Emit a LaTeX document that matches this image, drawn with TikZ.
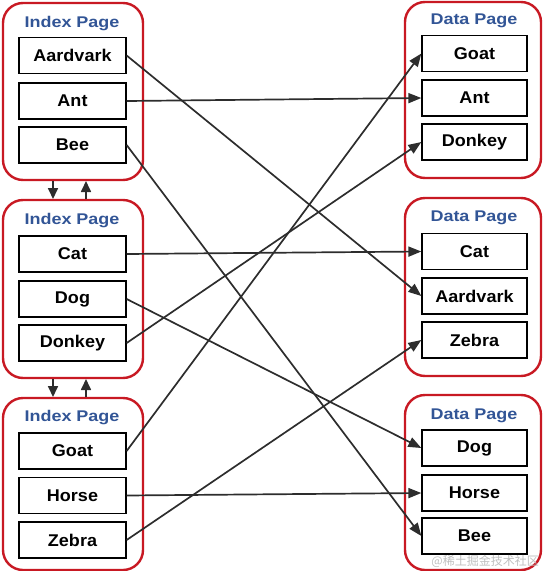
\documentclass[tikz,border=0pt]{standalone}
\usepackage{fontspec}
\setmainfont{Liberation Sans}
\newfontfamily\boxfont[FakeStretch=1.06]{Liberation Sans}
\newfontfamily\titlefont[FakeStretch=1.16]{Liberation Sans}
\newfontfamily\cjk{Noto Sans CJK SC}
\usetikzlibrary{arrows.meta}
\definecolor{pagered}{RGB}{200,25,35}
\definecolor{titleblue}{RGB}{50,85,150}
\definecolor{linegray}{RGB}{45,45,45}
\tikzset{
  grp/.style={draw=pagered,line width=2.4pt,rounded corners=20pt},
  entry/.style={draw=black,line width=1.3pt,minimum width=#1,minimum height=36pt,inner sep=0pt,font=\boxfont\bfseries\fontsize{17}{20}\selectfont},
  entry/.default=107pt,
  ttl/.style={text=titleblue,font=\titlefont\bfseries\fontsize{15.5}{18}\selectfont,inner sep=0pt},
  conn/.style={draw=linegray,line width=1.7pt,-{Triangle[length=13pt,width=10pt]}},
  updown/.style={draw=linegray,line width=1.7pt,-{Triangle[length=11pt,width=10pt]}}
}
\begin{document}
\begin{tikzpicture}[x=1pt,y=-1pt]
\useasboundingbox (0,0) rectangle (542,571);
% left groups
\draw[grp] (3,3) rectangle (143,180);
\draw[grp] (3,200) rectangle (143,378);
\draw[grp] (3,398) rectangle (143,570);
\node[ttl] (t1) at (72,23.5) {Index Page};
\node[ttl] (t2) at (72,221) {Index Page};
\node[ttl] (t3) at (72,418) {Index Page};
% right groups
\draw[grp] (405,2) rectangle (541,178);
\draw[grp] (405,198) rectangle (541,376);
\draw[grp] (405,395) rectangle (541,570);
\node[ttl] (d1) at (474,20.5) {Data Page};
\node[ttl] (d2) at (474,218) {Data Page};
\node[ttl] (d3) at (474,416) {Data Page};
% left entries
\node[entry] (lA) at (72.5,55.5) {Aardvark};
\node[entry] (lAn) at (72.5,101) {Ant};
\node[entry] (lB) at (72.5,145) {Bee};
\node[entry] (lC) at (72.5,254) {Cat};
\node[entry] (lD) at (72.5,299) {Dog};
\node[entry] (lDk) at (72.5,343) {Donkey};
\node[entry] (lG) at (72.5,451) {Goat};
\node[entry] (lH) at (72.5,495.5) {Horse};
\node[entry] (lZ) at (72.5,540) {Zebra};
% right entries
\node[entry=105pt] (rG) at (474.5,53.5) {Goat};
\node[entry=105pt] (rAn) at (474.5,98) {Ant};
\node[entry=105pt] (rDk) at (474.5,142) {Donkey};
\node[entry=105pt] (rC) at (474.5,251.5) {Cat};
\node[entry=105pt] (rA) at (474.5,296) {Aardvark};
\node[entry=105pt] (rZ) at (474.5,340) {Zebra};
\node[entry=105pt] (rD) at (474.5,448) {Dog};
\node[entry=105pt] (rH) at (474.5,493) {Horse};
\node[entry=105pt] (rB) at (474.5,536) {Bee};
% connectors
\draw[conn] (lA.east) -- (rA.west);
\draw[conn] (lAn.east) -- (rAn.west);
\draw[conn] (lB.east) -- (rB.west);
\draw[conn] (lC.east) -- (rC.west);
\draw[conn] (lD.east) -- (rD.west);
\draw[conn] (lDk.east) -- (rDk.west);
\draw[conn] (lG.east) -- (rG.west);
\draw[conn] (lH.east) -- (rH.west);
\draw[conn] (lZ.east) -- (rZ.west);
% links between index pages
\coordinate (a1) at (53,181); \coordinate (a2) at (53,199);
\coordinate (b1) at (86,199); \coordinate (b2) at (86,181);
\coordinate (c1) at (53,379); \coordinate (c2) at (53,397);
\coordinate (e1) at (86,397); \coordinate (e2) at (86,379);
\draw[updown] (a1) -- (a2);
\draw[updown] (b1) -- (b2);
\draw[updown] (c1) -- (c2);
\draw[updown] (e1) -- (e2);
% watermark
\node[text=black!25,font=\cjk\fontsize{12}{14}\selectfont,inner sep=0pt,anchor=east] (wm) at (539,561) {@稀土掘金技术社区};
\end{tikzpicture}
\end{document}
